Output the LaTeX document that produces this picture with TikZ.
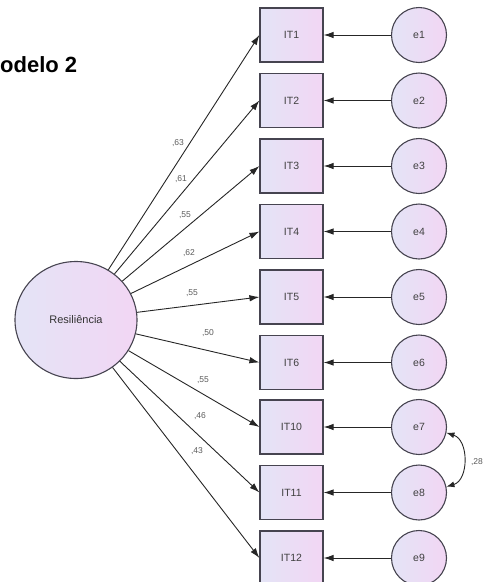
\documentclass[tikz,border=0pt]{standalone}
\usepackage{fontspec}
\setmainfont{Liberation Sans}
\usetikzlibrary{arrows.meta,shapes.geometric}
\definecolor{lavL}{RGB}{228,228,246}
\definecolor{lavR}{RGB}{242,214,244}
\definecolor{edgec}{RGB}{70,68,80}
\definecolor{coefc}{RGB}{90,90,90}
\tikzset{
  itembox/.style={draw=edgec, line width=1.2pt, left color=lavL, right color=lavR,
    minimum width=63pt, minimum height=54pt, inner sep=0pt, font=\fontsize{10.5}{12}\selectfont, text=black!75},
  errc/.style={circle, draw=edgec, line width=1.1pt, left color=lavL, right color=lavR,
    minimum size=55pt, inner sep=0pt, font=\fontsize{10.5}{12}\selectfont, text=black!75},
  latent/.style={ellipse, draw=edgec, line width=1.1pt, left color=lavL, right color=lavR,
    minimum width=122pt, minimum height=117pt, inner sep=0pt, font=\fontsize{11}{12}\selectfont, text=black!80},
  path/.style={draw=black!85, line width=0.9pt, -{Latex[length=10pt,width=6.5pt]}},
  coef/.style={font=\fontsize{8.5}{9}\selectfont, text=coefc, inner sep=0pt}
}
\begin{document}
\begin{tikzpicture}[x=1pt,y=-1pt]
\useasboundingbox (0,0) rectangle (484,582);
\node[anchor=base west, inner sep=0pt, font=\fontsize{22}{24}\selectfont\bfseries] (title) at (0,72) {odelo 2};
\node[latent] (R) at (76,320) {Resiliência};
\foreach \n/\lab/\y in {1/IT1/35, 2/IT2/100.5, 3/IT3/166, 4/IT4/231.5, 5/IT5/297, 6/IT6/362.5, 7/IT10/427, 8/IT11/492.5, 9/IT12/558}{
  \node[itembox] (I\n) at (291.5,\y) {\lab};
  \node[errc] (e\n) at (419,\y) {e\n};
  \draw[path] (e\n) -- (I\n.east);
  \draw[path] (R) -- (I\n.west);
}
\node[coef] (c1) at (178,143) {,63};
\node[coef] (c2) at (181,179) {,61};
\node[coef] (c3) at (185,215) {,55};
\node[coef] (c4) at (189,253) {,62};
\node[coef] (c5) at (192,293) {,55};
\node[coef] (c6) at (208,333) {,50};
\node[coef] (c7) at (203,380) {,55};
\node[coef] (c8) at (200,416) {,46};
\node[coef] (c9) at (197,451) {,43};
\draw[draw=black!85, line width=0.9pt, {Latex[length=8pt,width=6pt]}-{Latex[length=8pt,width=6pt]}]
  (e7.-12) .. controls (469,440) and (469,480) .. (e8.12);
\node[coef] (c28) at (477,462) {,28};
\end{tikzpicture}
\end{document}
